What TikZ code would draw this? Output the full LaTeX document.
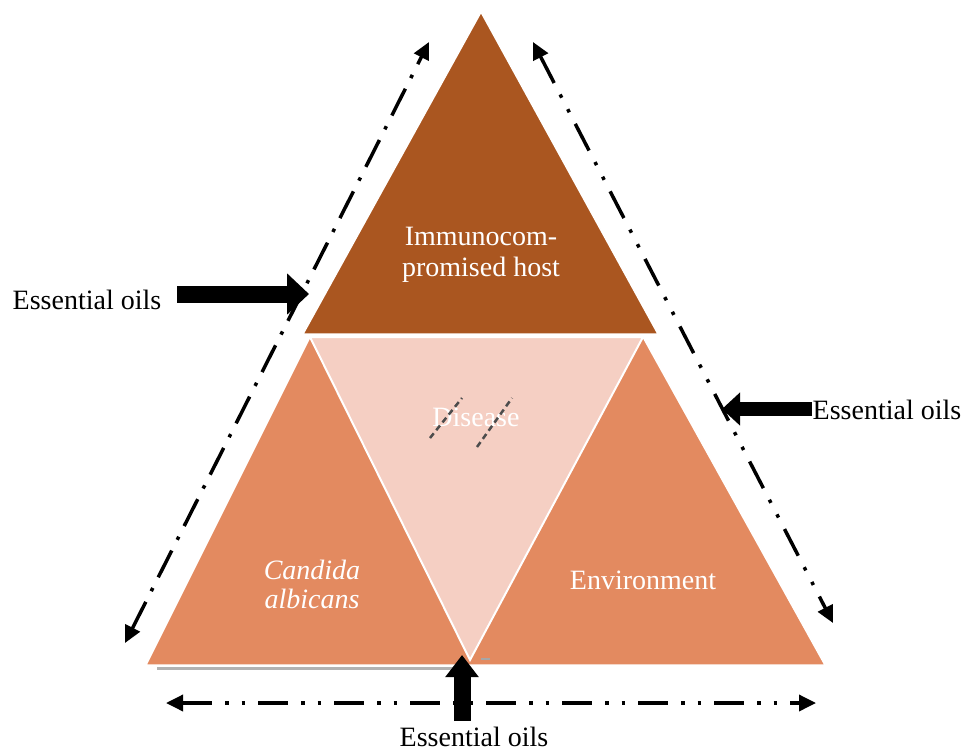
\documentclass[tikz,border=0pt]{standalone}
\usepackage{fontspec}
\setmainfont{Liberation Serif}
\usetikzlibrary{arrows.meta}
\definecolor{hostbrown}{RGB}{170,86,32}
\definecolor{sideorange}{RGB}{227,138,96}
\definecolor{diseasepink}{RGB}{245,207,195}
\tikzset{
  lbl/.style={font=\fontsize{28}{32}\selectfont, text=black, inner sep=0pt},
  wlbl/.style={font=\fontsize{28}{31}\selectfont, text=white, inner sep=0pt, align=center},
  dashdot/.style={line width=3.5pt, dash pattern=on 30pt off 12pt on 3.5pt off 12pt,
     {Triangle[length=17pt,width=16pt]}-{Triangle[length=17pt,width=16pt]}},
  dashdotdot/.style={line width=3.5pt, dash pattern=on 30pt off 13pt on 3.5pt off 13pt on 3.5pt off 13pt,
     {Triangle[length=17pt,width=16pt]}-{Triangle[length=17pt,width=16pt]}},
  bigarrow/.style={line width=#1, -{Triangle[length=22pt,width=40pt]}},
  slashes/.style={draw=black!70, line width=2.5pt, dash pattern=on 6pt off 4pt},
}
\begin{document}
\begin{tikzpicture}[x=1pt,y=-1pt]
\useasboundingbox (0,0) rectangle (964,753);
% shapes
\draw[gray!60, line width=3pt] (157,668) -- (470,668);
\fill[sideorange, draw=white, line width=1.5pt] (146,665) -- (310,337) -- (643,337) -- (825,665) -- cycle;
\fill[diseasepink, draw=white, line width=2pt] (310,337) -- (643,337) -- (470,660) -- cycle;
\fill[hostbrown, draw=white, line width=1.5pt] (481,12) -- (303,334) -- (658,334) -- cycle;
\draw[gray!70, line width=1.5pt] (481,659) -- (490,659);
% texts in shapes
\node[wlbl] (host) at (481,255) {Immunocom-\\promised host};
\node[wlbl] (dis) at (476,417) {Disease};
\node[wlbl, font=\fontsize{28}{29}\selectfont\itshape] (cand) at (312,584) {Candida\\albicans};
\node[wlbl] (env) at (643,580) {Environment};
\draw[slashes] (430,438) -- (462,398);
\draw[slashes] (477,447) -- (512,398);
% essential oils labels
\node[lbl, anchor=base] (eoL) at (87,309) {Essential oils};
\node[lbl, anchor=base] (eoR) at (887,419) {Essential oils};
\node[lbl, anchor=base] (eoB) at (474,746) {Essential oils};
% big arrows
\coordinate (bLs) at (177,294); \coordinate (bLt) at (309,294);
\coordinate (bRs) at (812,409); \coordinate (bRt) at (722,409);
\coordinate (bBs) at (462,721); \coordinate (bBt) at (462,655);
\draw[bigarrow=17pt] (bLs) -- (bLt);
\draw[line width=14pt, -{Triangle[length=18pt,width=32pt]}] (bRs) -- (bRt);
\draw[line width=17pt, -{Triangle[length=22pt,width=32pt]}] (bBs) -- (bBt);
% dash arrows
\coordinate (lA) at (125,643); \coordinate (lB) at (429,42);
\coordinate (rA) at (533,42); \coordinate (rB) at (833,623);
\coordinate (hA) at (166,703); \coordinate (hB) at (816,703);
\draw[dashdot] (lA) -- (lB);
\draw[dashdotdot] (rA) -- (rB);
\draw[dashdotdot] (hA) -- (hB);
\end{tikzpicture}
\end{document}
